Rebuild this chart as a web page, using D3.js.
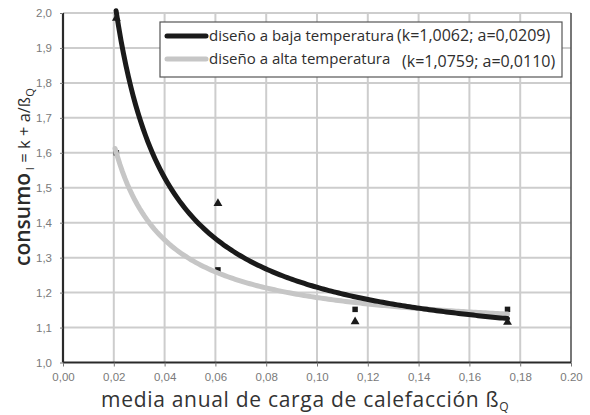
<!DOCTYPE html>
<html>
<head>
<meta charset="utf-8">
<script src="https://cdn.jsdelivr.net/npm/d3@7"></script>
<style>
  html, body { margin: 0; padding: 0; background: #fff; }
  svg { display: block; }
</style>
</head>
<body>
<svg id="chart" width="590" height="415"></svg>
<script>
// Measured consumption ratios for the two design types
const lowTempX  = [0.021, 0.061, 0.115, 0.175];
const lowTempY  = [1.985, 1.455, 1.117, 1.115];
const highTempX = [0.021, 0.061, 0.115, 0.175];
const highTempY = [1.600, 1.265, 1.152, 1.152];

// Fitted model parameters: consumo = k + a / ßQ
const fitLow  = { k: 1.0062, a: 0.0209 };
const fitHigh = { k: 1.0759, a: 0.0110 };

// Axis ticks and labels
const xTicks = [0.00, 0.02, 0.04, 0.06, 0.08, 0.10, 0.12, 0.14, 0.16, 0.18, 0.20];
const xTickLabels = ["0,00", "0,02", "0,04", "0,06", "0,08", "0,10", "0,12", "0,14", "0,16", "0,18", "0.20"];
const yTicks = [1.0, 1.1, 1.2, 1.3, 1.4, 1.5, 1.6, 1.7, 1.8, 1.9, 2.0];
const yTickLabels = ["1,0", "1,1", "1,2", "1,3", "1,4", "1,5", "1,6", "1,7", "1,8", "1,9", "2,0"];

const legendLabels = ["diseño a baja temperatura", "diseño a alta temperatura"];
const legendParams = ["(k=1,0062; a=0,0209)", "(k=1,0759; a=0,0110)"];

const svg = d3.select("#chart");
const x = d3.scaleLinear().domain([0, 0.20]).range([63, 571]);
const y = d3.scaleLinear().domain([1.0, 2.0]).range([362.5, 13]);

const gridColor = "#cdcdcd";

// Grid
const grid = svg.append("g");
grid.selectAll("line.v").data(xTicks.slice(1, -1)).enter().append("line")
  .attr("x1", d => x(d)).attr("x2", d => x(d))
  .attr("y1", y(2.0)).attr("y2", y(1.0))
  .attr("stroke", gridColor).attr("stroke-width", 2);
grid.selectAll("line.h").data(yTicks.slice(1)).enter().append("line")
  .attr("x1", x(0)).attr("x2", x(0.20))
  .attr("y1", d => y(d)).attr("y2", d => y(d))
  .attr("stroke", gridColor).attr("stroke-width", 2);

// Right frame edge
svg.append("line")
  .attr("x1", x(0.20)).attr("x2", x(0.20))
  .attr("y1", y(2.0)).attr("y2", y(1.0))
  .attr("stroke", "#555").attr("stroke-width", 1.6);

// Axes
const xAxis = d3.axisBottom(x).tickValues(xTicks)
  .tickFormat((d, i) => xTickLabels[i]).tickSize(4).tickPadding(6);
const yAxis = d3.axisLeft(y).tickValues(yTicks)
  .tickFormat((d, i) => yTickLabels[i]).tickSize(3).tickPadding(8);

const gx = svg.append("g").attr("transform", `translate(0,${y(1.0)})`).call(xAxis);
const gy = svg.append("g").attr("transform", `translate(${x(0)},0)`).call(yAxis);
[gx, gy].forEach(g => {
  g.select(".domain").attr("stroke", "#2a2a2a").attr("stroke-width", 2.2);
  g.selectAll(".tick line").attr("stroke", "#777").attr("stroke-width", 1);
  g.selectAll(".tick text")
    .attr("fill", "#7a7a7a")
    .style("font-family", "'Liberation Sans', Arial, sans-serif")
    .style("font-size", "11.5px");
});
gx.select(".domain").attr("d", `M${x(0)},0H${x(0.20)}`);
gy.select(".domain").attr("d", `M0,${y(2.0)}V${y(1.0)}`);

// Data markers
const tri = d3.symbol().type(d3.symbolTriangle).size(34);
const sq  = d3.symbol().type(d3.symbolSquare).size(30);
svg.append("g").selectAll("path").data(lowTempX).enter().append("path")
  .attr("d", tri)
  .attr("transform", (d, i) => `translate(${x(d)},${y(lowTempY[i])})`)
  .attr("fill", "#1a1a1a");
svg.append("g").selectAll("path").data(highTempX).enter().append("path")
  .attr("d", sq)
  .attr("transform", (d, i) => `translate(${x(d)},${y(highTempY[i])})`)
  .attr("fill", "#1a1a1a");

// Fitted curves, evaluated from k and a over the measured range
function fitted(fit, x0, x1) {
  const steps = 160;
  return d3.range(steps + 1).map(j => {
    const xv = x0 + (x1 - x0) * j / steps;
    return [xv, fit.k + fit.a / xv];
  });
}
const line = d3.line().x(d => x(d[0])).y(d => y(d[1])).curve(d3.curveLinear);

svg.append("path")
  .datum(fitted(fitHigh, 0.0205, 0.175))
  .attr("d", line).attr("fill", "none")
  .attr("stroke", "#c6c6c6").attr("stroke-width", 5).attr("stroke-linecap", "round");
svg.append("path")
  .datum(fitted(fitLow, 0.0209, 0.175))
  .attr("d", line).attr("fill", "none")
  .attr("stroke", "#1a1a1a").attr("stroke-width", 5).attr("stroke-linecap", "round");

// Legend
const lg = svg.append("g");
lg.append("rect")
  .attr("x", 160).attr("y", 22).attr("width", 402).attr("height", 55)
  .attr("fill", "#fff").attr("stroke", "#555").attr("stroke-width", 1.2);
const legendColors = ["#1a1a1a", "#c6c6c6"];
const rowY = [36, 59];
legendLabels.forEach((lab, i) => {
  lg.append("line")
    .attr("x1", 167).attr("x2", 206).attr("y1", rowY[i]).attr("y2", rowY[i])
    .attr("stroke", legendColors[i]).attr("stroke-width", 5).attr("stroke-linecap", "round");
  lg.append("text")
    .attr("x", 209).attr("y", rowY[i] + 5)
    .attr("fill", "#2e2e2e")
    .style("font-family", "'Open Sans', sans-serif").style("font-size", "15px")
    .text(lab);
  lg.append("text")
    .attr("x", i === 0 ? 397 : 402).attr("y", rowY[i] + 5 + (i === 0 ? 0 : 3))
    .attr("fill", "#2e2e2e")
    .style("font-family", "'Open Sans', sans-serif").style("font-size", "16px")
    .text(legendParams[i]);
});

// Axis titles
const xt = svg.append("text")
  .attr("x", 101).attr("y", 407)
  .attr("fill", "#333")
  .style("font-family", "'Open Sans', sans-serif").style("font-size", "21px")
  .style("letter-spacing", "0.7px");
xt.append("tspan").text("media anual de carga de calefacción ß");
xt.append("tspan").attr("dy", 4).style("font-size", "12px").text("Q");

const yt = svg.append("text")
  .attr("transform", "translate(30,266) rotate(-90)")
  .attr("fill", "#2a2a2a")
  .style("font-family", "'Open Sans', sans-serif");
yt.append("tspan").style("font-size", "21px").style("font-weight", "600").text("consumo");
yt.append("tspan").attr("dy", 4).style("font-size", "11px").text(" I");
yt.append("tspan").attr("dy", -4).style("font-size", "16.5px").text(" = k + a/ß");
yt.append("tspan").attr("dy", 4).style("font-size", "11px").text("Q");
</script>
</body>
</html>
